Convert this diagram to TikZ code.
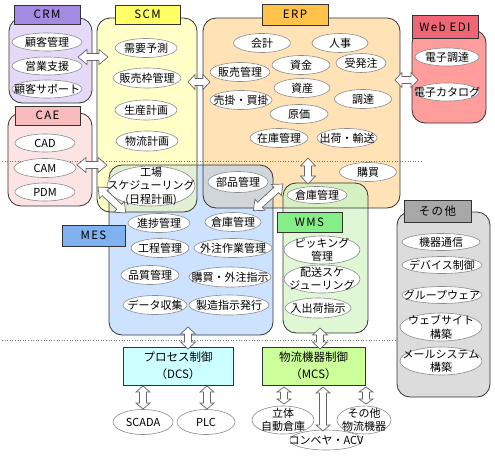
\documentclass[tikz,border=0pt]{standalone}
\usepackage{fontspec}
\setmainfont{Noto Sans CJK JP}
\newfontfamily\lblfamily[LetterSpace=12]{Noto Sans CJK JP}
\usetikzlibrary{shapes.geometric}
\definecolor{crmL}{HTML}{A48AE0}
\definecolor{crmC}{HTML}{E4DAF8}
\definecolor{caeL}{HTML}{F8BCBC}
\definecolor{caeC}{HTML}{FCE4E4}
\definecolor{scmL}{HTML}{FFFF66}
\definecolor{scmC}{HTML}{FFFFC8}
\definecolor{erpL}{HTML}{FFC24A}
\definecolor{erpC}{HTML}{FFE3B6}
\definecolor{ediL}{HTML}{F06676}
\definecolor{ediC}{HTML}{FF9C9C}
\definecolor{mesL}{HTML}{80B2F0}
\definecolor{mesC}{HTML}{CCE2FF}
\definecolor{wmsL}{HTML}{86EE86}
\definecolor{wmsC}{HTML}{DFF7D5}
\definecolor{othL}{HTML}{A8A8A8}
\definecolor{othC}{HTML}{DCDCDC}
\definecolor{dcsC}{HTML}{CCFFFF}
\definecolor{mcsC}{HTML}{CCFF99}
\definecolor{scmmes}{HTML}{E2EFD2}
\definecolor{erpmes}{HTML}{D0D6DA}
\definecolor{erpwms}{HTML}{D6F0C2}
\newcommand\elln[6]{\node[ell, minimum width=#4pt, minimum height=#5pt] (#1) at (#2,#3) {};
  \node[etext] (#1t) at (#1.center) {#6};}
\newcommand\fatarr[7]{%
  \begin{scope}[shift={(#1,#2)},rotate=#3]
  \draw[fatarrow] (0,0) -- (#7,#5) -- (#7,#6) -- ({#4-#7},#6) -- ({#4-#7},#5) -- (#4,0)
    -- ({#4-#7},-#5) -- ({#4-#7},-#6) -- (#7,-#6) -- (#7,-#5) -- cycle;
  \end{scope}}
\begin{document}
\begin{tikzpicture}[x=1pt,y=-1pt,
  cont/.style={rectangle, rounded corners=13pt, inner sep=0pt, outer sep=0pt},
  border/.style={draw=black!80, line width=0.8pt, rounded corners=13pt},
  lab/.style={rectangle, draw=black!80, line width=0.8pt, inner sep=0pt, font=\lblfamily\fontsize{11.5}{13}\selectfont},
  ell/.style={ellipse, draw=black!45, line width=0.6pt, fill=white, inner sep=0pt},
  etext/.style={inner sep=0pt, align=center, font=\fontsize{11}{13.5}\selectfont},
  fatarrow/.style={draw=black!60, fill=white, line width=0.7pt, line join=miter},
  dotl/.style={draw=black!55, dotted, line width=0.6pt},
  ctrl/.style={rectangle, draw=black!80, line width=0.8pt, inner sep=0pt, align=center, font=\fontsize{11.5}{17}\selectfont}]
\useasboundingbox (0,0) rectangle (495,461);

% containers (fills)
\node[cont, fill=crmC, minimum width=83pt, minimum height=85pt] (crm) at (50.5,60.5) {};
\node[cont, fill=caeC, minimum width=84pt, minimum height=93pt] (cae) at (50,159.5) {};
\node[cont, fill=scmC, minimum width=100pt, minimum height=194pt] (scm) at (147,115) {};
\node[cont, fill=erpC, minimum width=197pt, minimum height=190pt] (erp) at (301.5,113) {};
\node[cont, fill=ediC, minimum width=74pt, minimum height=93pt] (edi) at (449,76.5) {};
\node[cont, fill=othC, minimum width=93pt, minimum height=185pt] (oth) at (443.5,304.5) {};
\node[cont, fill=mesC, minimum width=164pt, minimum height=170pt] (mes) at (191,250) {};
\node[cont, fill=wmsC, minimum width=85pt, minimum height=150pt] (wms) at (325.5,258) {};

% overlaps
\begin{scope}
\clip[rounded corners=13pt] (scm.south west) rectangle (scm.north east);
\fill[scmmes, rounded corners=13pt] (mes.south west) rectangle (mes.north east);
\end{scope}
\begin{scope}
\clip[rounded corners=13pt] (erp.south west) rectangle (erp.north east);
\fill[erpmes, rounded corners=13pt] (mes.south west) rectangle (mes.north east);
\fill[erpwms, rounded corners=13pt] (wms.south west) rectangle (wms.north east);
\end{scope}

% borders
\foreach \c in {crm,cae,scm,erp,edi,oth,mes,wms}
  \draw[border] (\c.south west) rectangle (\c.north east);

% dotted separators
\coordinate (d1a) at (2,161); \coordinate (d1b) at (422,161);
\coordinate (d2a) at (2,340); \coordinate (d2b) at (395,340);
\draw[dotl] (d1a) -- (d1b);
\draw[dotl] (d2a) -- (d2b);

% title labels
\node[lab, fill=crmL, minimum width=66pt, minimum height=19pt] (crmlab) at (47,14.5) {CRM};
\node[lab, fill=caeL, minimum width=65pt, minimum height=19pt] (caelab) at (47.5,115.5) {CAE};
\node[lab, fill=scmL, minimum width=65pt, minimum height=19pt] (scmlab) at (147.5,14.5) {SCM};
\node[lab, fill=erpL, minimum width=66pt, minimum height=21pt] (erplab) at (295,14.5) {ERP};
\node[lab, fill=ediL, minimum width=66pt, minimum height=23pt] (edilab) at (445,26.5) {Web EDI};
\node[lab, fill=mesL, minimum width=63pt, minimum height=21pt] (meslab) at (93.5,235.5) {MES};
\node[lab, fill=wmsL, minimum width=65pt, minimum height=20pt] (wmslab) at (309.5,222) {WMS};
\node[lab, fill=othL, minimum width=67pt, minimum height=22pt] (othlab) at (437.5,211) {その他};

% CRM
\elln{c1}{47}{42}{70}{18}{顧客管理}
\elln{c2}{47}{66}{70}{18}{営業支援}
\elln{c3}{47}{89}{70}{18}{顧客サポート}
% CAE
\elln{e1}{45}{143}{60}{18}{CAD}
\elln{e2}{45}{168}{62}{19}{CAM}
\elln{e3}{45}{192}{60}{18}{PDM}
% SCM
\elln{s1}{146}{48}{62}{19}{需要予測}
\elln{s2}{147}{78}{68}{20}{販売枠管理}
\elln{s3}{146}{110}{62}{20}{生産計画}
\elln{s4}{147}{141}{62}{20}{物流計画}
% ERP
\elln{r1}{262}{43}{57}{19}{会計}
\elln{r2}{340}{43}{56}{19}{人事}
\elln{r3}{301}{65}{58}{19}{資金}
\elln{r4}{361}{63}{50}{19}{受発注}
\elln{r5}{240}{72}{60}{19}{販売管理}
\elln{r6}{302}{88}{56}{19}{資産}
\elln{r7}{241}{100}{62}{19}{売掛・買掛}
\elln{r8}{363}{99}{57}{19}{調達}
\elln{r9}{299}{114}{58}{19}{原価}
\elln{r10}{279}{138}{58}{19}{在庫管理}
\elln{r11}{347}{138}{60}{19}{出荷・輸送}
\elln{r12}{368}{172}{57}{19}{購買}
\elln{r13}{238}{182}{60}{21}{部品管理}
% Web EDI
\elln{w1}{447}{57}{64}{18}{電子調達}
\elln{w2}{447}{92}{64}{18}{電子カタログ}
% MES
\elln{m0}{151}{186}{88}{40}{工場\\スケジューリング\\(日程計画)}
\elln{m1}{159}{223}{62}{19}{進捗管理}
\elln{m2}{233}{222}{56}{19}{倉庫管理}
\elln{m3}{160}{248}{58}{19}{工程管理}
\elln{m4}{233}{248}{78}{19}{外注作業管理}
\elln{m5}{150}{275}{58}{19}{品質管理}
\elln{m6}{230}{277}{82}{20}{購買・外注指示}
\elln{m7}{155}{305}{64}{19}{データ収集}
\elln{m8}{229}{305}{80}{20}{製造指示発行}
% WMS
\elln{k1}{317}{195}{60}{17}{倉庫管理}
\elln{k2}{322}{250}{76}{28}{ピッキング\\管理}
\elln{k3}{322}{279}{76}{28}{配送スケ\\ジューリング}
\elln{k4}{318}{308}{66}{20}{入出荷指示}
% others
\elln{o1}{441}{242}{78}{17}{機器通信}
\elln{o2}{442}{265}{80}{17}{デバイス制御}
\elln{o3}{442}{295}{80}{17}{グループウェア}
\elln{o4}{441}{327}{82}{28}{ウェブサイト\\構築}
\elln{o5}{441}{361}{82}{28}{メールシステム\\構築}

% control boxes
\node[ctrl, fill=dcsC, minimum width=110pt, minimum height=38pt] (dcs) at (178,366) {プロセス制御\\（DCS）};
\node[ctrl, fill=mcsC, minimum width=103pt, minimum height=38pt] (mcs) at (313.5,366) {物流機器制御\\（MCS）};

% bottom devices
\elln{b1}{143}{422}{60}{25}{SCADA}
\elln{b2}{206}{422}{58}{25}{PLC}
\elln{b3}{283}{420}{62}{28}{立体\\自動倉庫}
\elln{b4}{326}{440}{72}{20}{コンベヤ・ACV}
\elln{b5}{364}{420}{54}{28}{その他\\物流機器}

% fat double arrows
\fatarr{78}{57}{0}{30}{7.5}{3.5}{9}
\fatarr{77}{165}{0}{30}{7.5}{3.5}{9}
\fatarr{188}{82}{0}{22}{7.5}{3.5}{7}
\fatarr{395}{80}{0}{23}{7.5}{3.5}{7}
\fatarr{308}{158}{-90}{26}{7.5}{3.5}{8}
\fatarr{98}{187}{-43}{38}{7.5}{3.5}{9}
\fatarr{283}{184}{-138}{40}{7.5}{3.5}{9}
\fatarr{188}{327}{-90}{22}{7.5}{3.5}{7}
\fatarr{320}{328}{-90}{21}{7.5}{3.5}{7}
\fatarr{143}{386}{-90}{23}{7}{3.5}{6}
\fatarr{207}{386}{-90}{23}{7}{3.5}{6}
\fatarr{284}{387}{-90}{17}{7}{3.5}{5}
\fatarr{323}{387}{-90}{44}{7}{3.5}{6}
\fatarr{366}{387}{-90}{17}{7}{3.5}{5}
\end{tikzpicture}
\end{document}
